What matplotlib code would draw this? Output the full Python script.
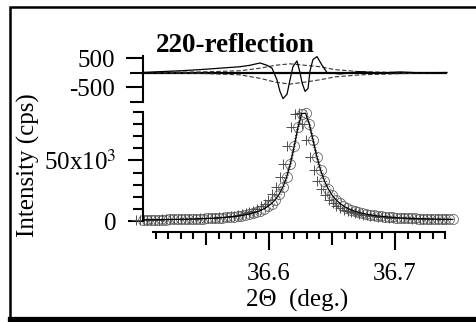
import matplotlib.pyplot as plt
import matplotlib.transforms as mtransforms
from matplotlib.patches import Rectangle
from matplotlib.lines import Line2D
from matplotlib.ticker import FixedLocator
import numpy as np

plt.rcParams['font.family'] = ['Liberation Serif', 'DejaVu Serif']
plt.rcParams['mathtext.fontset'] = 'stix'

# scan grid (deg.), 0.003 deg step
scan_start = 36.500
scan_step = 0.003
n_points = 83
two_theta = np.round(scan_start + scan_step * np.arange(n_points), 4)

intensity = [970, 1000, 1030, 1070, 1100, 1150, 1200, 1250, 1300, 1400,
             1400, 1500, 1600, 1700, 1800, 1900, 2000, 2100, 2300, 2400,
             2600, 2800, 3100, 3400, 3700, 4100, 4500, 5100, 5700, 6500,
             7400, 8600, 10100, 12000, 14400, 17700, 22000, 28000, 36200, 47400,
             61700, 77400, 88700,
             89000, 80000, 66500, 53100, 41900, 33100, 26500, 21500, 17700, 14800,
             12500, 10700, 9300, 8100, 7200, 6400, 5700, 5100, 4600, 4200,
             3900, 3600, 3300, 3000, 2800, 2600, 2500, 2300, 2200, 2100,
             1950, 1850, 1750, 1700, 1600, 1500, 1450, 1400, 1350, 1300]

# residuals (cps)
res_x = [36.500, 36.5135, 36.5294, 36.5452, 36.5611, 36.5770, 36.5849, 36.5929,
         36.5984, 36.6024, 36.6063, 36.6087, 36.6111, 36.6143, 36.6167, 36.6190,
         36.6222, 36.6246, 36.6262, 36.6286, 36.6310, 36.6325, 36.6349, 36.6381,
         36.6421, 36.6460, 36.6563, 36.6722, 36.6881, 36.7040, 36.7198, 36.7413]
res_solid = [0, 30, 60, 100, 150, 200, 250, 330,
             250, 150, -250, -650, -900, -750, -250, 200,
             400, 0, -350, -650, -550, 50, 450, 550,
             250, 0, -50, 30, -20, 20, -10, 0]
res_dash_x = [36.500, 36.5452, 36.5770, 36.5929, 36.6048, 36.6167, 36.6286,
              36.6405, 36.6524, 36.6722, 36.7040, 36.7413]
res_dash_up = [0, 20, 60, 150, 250, 300, 250, 200, 100, 30, 0, 0]
res_dash_lo = [0, -30, -80, -200, -330, -400, -330, -250, -150, -80, -40, 0]

W, H = 477, 322
fig = plt.figure(figsize=(W / 100, H / 100), dpi=100)

ax = fig.add_axes([143 / W, 1 - 221 / H, 315 / W, 109 / H])
ax_r = fig.add_axes([143 / W, 1 - 101.5 / H, 315 / W, 45.2 / H], sharex=ax)

# main panel
up_tr = mtransforms.offset_copy(ax.transData, fig=fig, x=0, y=4, units='dots')
lo_tr = mtransforms.offset_copy(ax.transData, fig=fig, x=0, y=-4, units='dots')
plus_tr = mtransforms.offset_copy(ax.transData, fig=fig, x=-7, y=0, units='dots')
ax.plot(two_theta, intensity, ':', color='0.3', lw=0.8, transform=up_tr, clip_on=False)
ax.plot(two_theta, intensity, ':', color='0.3', lw=0.8, transform=lo_tr, clip_on=False)
ax.plot(two_theta, intensity, 'o', mfc='none', mec='0.4', ms=7.2, mew=0.6, clip_on=False)
ax.plot(two_theta, intensity, '+', color='0.3', ms=7, mew=0.7, transform=plus_tr, clip_on=False)
ax.plot(two_theta, intensity, color='black', lw=0.9, clip_on=False, zorder=3)

ax.set_xlim(36.5, 36.75)
ax.set_ylim(0, 90000)
for s in ['top', 'right']:
    ax.spines[s].set_visible(False)
ax.spines['left'].set_linewidth(1.5)
ax.spines['bottom'].set_linewidth(1.5)
ax.spines['bottom'].set_position(('outward', 7.9))
ax.spines['bottom'].set_bounds(36.508, 36.74)

ax.set_yticks([0, 50000])
ax.set_yticklabels(['0', r'50x10$^3$'])
ax.yaxis.set_minor_locator(FixedLocator(np.arange(10000, 90001, 10000)))
ax.tick_params(axis='y', which='major', direction='out', length=10.8, width=1.5,
               labelsize=18, pad=8)
ax.tick_params(axis='y', which='minor', direction='out', length=7.2, width=1.5)

ax.set_xticks([36.55, 36.6, 36.65, 36.7])
ax.set_xticklabels(['', '36.6', '', '36.7'])
ax.xaxis.set_minor_locator(FixedLocator(np.round(np.arange(36.51, 36.745, 0.01), 2)))
ax.tick_params(axis='x', which='major', direction='out', length=13, width=1.5,
               labelsize=18, pad=9)
ax.tick_params(axis='x', which='minor', direction='out', length=5, width=1.5)

# residual panel
ax_r.hlines(0, res_x[0], res_x[-1], color='black', lw=1.6)
ax_r.plot(res_dash_x, res_dash_up, '--', color='0.2', lw=0.8, dashes=(4, 2))
ax_r.plot(res_dash_x, res_dash_lo, '--', color='0.2', lw=0.8, dashes=(4, 2))
ax_r.plot(res_x, res_solid, color='black', lw=0.9)
ax_r.set_ylim(-1000, 560)
for s in ['top', 'right', 'bottom']:
    ax_r.spines[s].set_visible(False)
ax_r.spines['left'].set_linewidth(1.5)
ax_r.set_yticks([500, -500])
ax_r.set_yticklabels(['500', '-500'])
ax_r.yaxis.set_minor_locator(FixedLocator([0, -1000]))
ax_r.tick_params(axis='y', which='major', direction='out', length=12.2, width=1.5,
                 labelsize=18, pad=8)
ax_r.tick_params(axis='y', which='minor', direction='out', length=9.4, width=1.5)
ax_r.tick_params(axis='x', which='both', bottom=False, labelbottom=False)

# medium-length ticks at 36.55 and 36.65
for t in ax.xaxis.get_major_ticks():
    if abs(t.get_loc() - 36.6) > 0.001 and abs(t.get_loc() - 36.7) > 0.001:
        t.tick1line.set_markersize(9.4)

fig.text(156 / W, 1 - 52 / H, '220-reflection', fontsize=19.5, fontweight='bold',
         va='baseline', ha='left')
fig.text(28 / W, 1 - 165 / H, 'Intensity (cps)', rotation=90, fontsize=18,
         va='center', ha='center')
fig.text(297 / W, 1 - 307 / H, '2\u0398  (deg.)', fontsize=18, va='baseline', ha='center')

# frame around the scanned figure
fig.patches.append(Rectangle((10 / W, 1 - 318 / H), 2, 311 / H, transform=fig.transFigure,
                             fill=False, lw=1.8, ec='black'))
fig.lines.append(Line2D([10 / W, 1], [1 - 319 / H] * 2, transform=fig.transFigure,
                        lw=3.8, color='black', zorder=10))

fig.savefig('out.png', dpi=100)
